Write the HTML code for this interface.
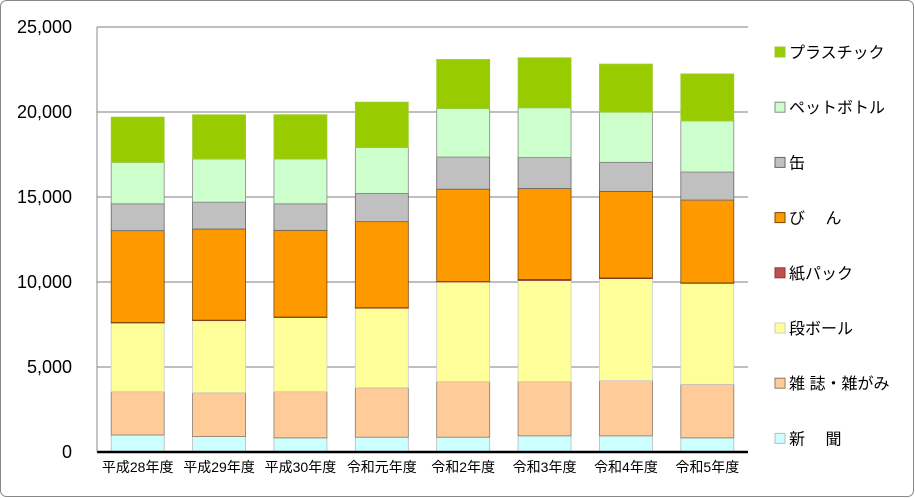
<!DOCTYPE html>
<html><head><meta charset="utf-8">
<style>
body{margin:0;background:#fff;}
svg{display:block;font-family:"Liberation Sans","Noto Sans CJK JP",sans-serif;}
</style></head>
<body>
<svg id="chart" width="915" height="498" viewBox="0 0 915 498">
<rect x="0.5" y="0.5" width="913" height="496" rx="6" fill="#fff" stroke="#888"/>
<g id="grid"></g><g id="bars"></g><g id="axes"></g><g id="legend"></g>
</svg>
<script>
const categories=["平成28年度","平成29年度","平成30年度","令和元年度","令和2年度","令和3年度","令和4年度","令和5年度"];
const seriesNames=["新　 聞","雑 誌・雑がみ","段ボール","紙パック","び　 ん","缶","ペットボトル","プラスチック"];
const shinbun=[1000,906,830,870,870,950,950,830];
const zasshi=[2550,2580,2720,2910,3270,3190,3250,3150];
const danboru=[4050,4250,4370,4690,5870,5950,6000,5950];
const kamipack=[20,20,20,20,20,60,40,20];
const bin=[5400,5360,5100,5060,5430,5350,5090,4870];
const kan=[1580,1580,1560,1660,1890,1820,1710,1650];
const pet=[2440,2540,2640,2700,2860,2930,2950,3010];
const plastic=[2660,2600,2600,2670,2880,2940,2830,2760];
const yTicks=[0,5000,10000,15000,20000,25000];
const yTickLabels=["0","5,000","10,000","15,000","20,000","25,000"];

const series=[shinbun,zasshi,danboru,kamipack,bin,kan,pet,plastic];
const fills=["#ccffff","#ffcc99","#ffff99","#c0504d","#ff9900","#c0c0c0","#ccffcc","#99cc00"];
const strokes=["#bbb","#8a7a6a","#ccc","#8b3a3a","#7a4a00","#666","#888","#9c3"];
const slugs=["shinbun","zasshi","danboru","kamipack","bin","kan","pet","plastic"];
const NS="http://www.w3.org/2000/svg";
const X0=97,X1=748,Y0=452,Y1=27,YMAX=25000;
const y=v=>Y0-(v/YMAX)*(Y0-Y1);
const band=(X1-X0)/categories.length;
const x=i=>X0+band*i+band/2;
const BW=53;
function mk(t,a,p){const e=document.createElementNS(NS,t);for(const k in a)e.setAttribute(k,a[k]);p.appendChild(e);return e;}
const grid=document.getElementById('grid'),bars=document.getElementById('bars'),axes=document.getElementById('axes'),legend=document.getElementById('legend');
yTicks.forEach((t,i)=>{
  if(t>0){const l=mk('line',{x1:X0,x2:X1,y1:y(t),y2:y(t),stroke:'#999','stroke-width':1.2},grid);
  
  }
  const tx=mk('text',{x:72,y:y(t)+6,'text-anchor':'end','font-size':18,fill:'#000'},axes);
  tx.textContent=yTickLabels[i];
  
  
});
categories.forEach((c,i)=>{
  let acc=0;
  series.forEach((s,k)=>{
    const v=s[i];const top=y(acc+v),bot=y(acc);
    const r=mk('rect',{x:x(i)-BW/2,y:top,width:BW,height:Math.max(bot-top,0.5),fill:fills[k],stroke:strokes[k],'stroke-width':0.8},bars);
    
    
    acc+=v;
  });
  const t=mk('text',{x:x(i),y:472,'text-anchor':'middle','font-size':14,fill:'#000'},axes);
  t.textContent=c;
  
  
});
const ax=mk('line',{x1:X0,x2:X1,y1:Y0,y2:Y0,stroke:'#000','stroke-width':2.5},axes);


const ay=mk('line',{x1:X0,x2:X0,y1:Y1,y2:Y0,stroke:'#888','stroke-width':1},axes);


for(let k=series.length-1;k>=0;k--){
  const row=series.length-1-k;const cy=52+row*55.2;
  const g=mk('g',{},legend);
  
  
  mk('rect',{x:775,y:cy-5,width:10,height:10,fill:fills[k],stroke:strokes[k]},g);
  const t=mk('text',{x:789,y:cy+6,'font-size':16,fill:'#000'},g);
  t.textContent=seriesNames[k];
}
</script>
</body></html>
